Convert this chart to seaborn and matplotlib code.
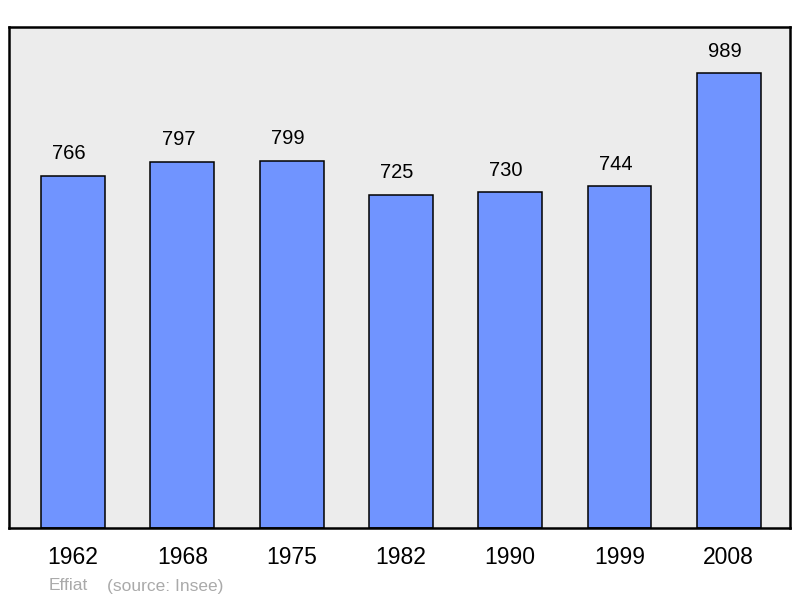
import matplotlib
matplotlib.use("Agg")
import matplotlib.pyplot as plt
import pandas as pd
import seaborn as sns

years = ["1962", "1968", "1975", "1982", "1990", "1999", "2008"]
population = [766, 797, 799, 725, 730, 744, 989]

sns.set_theme(style="white")
plt.rcParams["font.family"] = ["Liberation Sans", "DejaVu Sans"]

df = pd.DataFrame({"year": years, "population": population})

fig = plt.figure(figsize=(8, 5.98), dpi=100)
ax = fig.add_axes([0.0115, 0.117, 0.976, 0.838])
ax.set_facecolor("#ececec")

sns.barplot(data=df, x="year", y="population", color="#7094ff", saturation=1,
            width=0.585, edgecolor="black", linewidth=1.1, ax=ax)

# value labels sit a little left of the bar centre, as in the original
for i, v in enumerate(population):
    ax.annotate(str(v), (i, v), xytext=(-2.9, 15.8), textcoords="offset points",
                ha="center", va="center", fontsize=14.5, color="black")

ax.set_xlim(-0.585, 6.56)
ax.set_ylim(0, 1090)
ax.set_yticks([])
ax.set_xlabel("")
ax.set_ylabel("")
ax.tick_params(axis="x", length=0, labelsize=16.5, pad=13, colors="black")
for s in ax.spines.values():
    s.set_color("black")
    s.set_linewidth(1.8)

fig.text(49 / 800, 1 - 586 / 598, "Effiat", fontsize=12.5, color="#aaaaaa", va="center")
fig.text(107 / 800, 1 - 586 / 598, "(source: Insee)", fontsize=12.5, color="#aaaaaa", va="center")

fig.savefig("out.png", dpi=100)
